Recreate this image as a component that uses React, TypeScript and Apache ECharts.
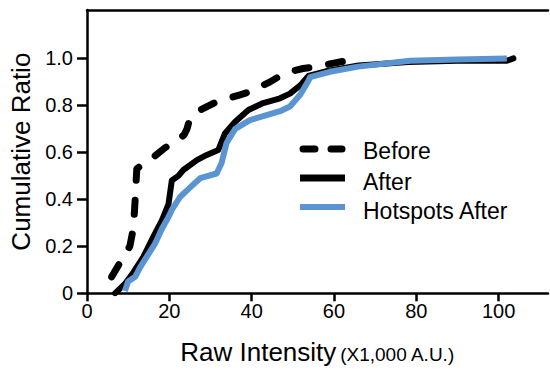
import React, { useEffect, useRef } from "react";
import * as echarts from "echarts";

const beforeX = [6.0, 8.0, 10.4, 11.3, 11.7, 12.1, 13.3, 15.5, 19.0, 22.6, 23.6, 24.3, 25.0, 27.5, 31.5, 37.2, 40.0, 42.8, 44.5, 47.3, 49.3, 52.5, 55.8, 60.0, 63.0, 64.6];
const beforeY = [0.07, 0.13, 0.2, 0.28, 0.4, 0.53, 0.546, 0.57, 0.62, 0.66, 0.675, 0.7, 0.745, 0.78, 0.815, 0.845, 0.86, 0.886, 0.9, 0.93, 0.943, 0.957, 0.965, 0.98, 0.99, 1.0];

const afterX = [6.8, 9.2, 11.3, 13.7, 16.1, 18.2, 19.8, 20.6, 22.2, 23.4, 26.7, 29.1, 31.9, 33.5, 36.0, 39.2, 42.8, 46.9, 49.3, 51.8, 53.8, 58.0, 66.0, 78.0, 90.0, 102.0, 103.6];
const afterY = [0.0, 0.04, 0.09, 0.155, 0.24, 0.31, 0.38, 0.48, 0.5, 0.525, 0.567, 0.589, 0.61, 0.68, 0.73, 0.78, 0.81, 0.83, 0.85, 0.885, 0.925, 0.945, 0.97, 0.985, 0.99, 0.99, 1.0];

const hotX = [9.2, 10.0, 11.7, 12.9, 14.5, 16.5, 18.2, 19.8, 20.6, 22.6, 25.0, 27.5, 31.5, 32.7, 33.9, 36.0, 39.6, 46.9, 49.3, 51.8, 53.8, 54.2, 59.0, 65.9, 78.5, 90.0, 102.0];
const hotY = [0.01, 0.05, 0.07, 0.11, 0.155, 0.21, 0.275, 0.325, 0.355, 0.41, 0.45, 0.49, 0.51, 0.555, 0.64, 0.7, 0.737, 0.775, 0.795, 0.845, 0.905, 0.92, 0.943, 0.965, 0.99, 0.995, 1.0];

const xTicks = [0, 20, 40, 60, 80, 100];
const yTicks = [0, 0.2, 0.4, 0.6, 0.8, 1.0];
const seriesNames = ["Before", "After", "Hotspots After"];

const pairs = (xs: number[], ys: number[]) => xs.map((x, i) => [x, ys[i]]);

const FONT = "'Liberation Sans', Arial, sans-serif";
const BLUE = "#5B95D1";

export default function App() {
  const ref = useRef<HTMLDivElement>(null);
  useEffect(() => {
    if (!ref.current) return;
    const chart = echarts.init(ref.current, undefined, { renderer: "svg" });
    const legendStyles = [
      { stroke: "#000", lineWidth: 7, lineDash: [12, 16], lineCap: "round" },
      { stroke: "#000", lineWidth: 7, lineCap: "butt" },
      { stroke: BLUE, lineWidth: 6, lineCap: "butt" },
    ];
    const legendLineY = [149, 178, 207];
    const legendTextY = [151, 182, 211];
    const graphic: any[] = [];
    seriesNames.forEach((name, i) => {
      graphic.push({
        type: "line",
        shape: { x1: i === 0 ? 303 : 300, y1: legendLineY[i], x2: i === 0 ? 342 : 345, y2: legendLineY[i] },
        style: legendStyles[i],
        silent: true,
      });
      graphic.push({
        type: "text",
        x: 363,
        y: legendTextY[i],
        style: { text: name, fontSize: 23, fontFamily: FONT, fill: "#000", verticalAlign: "middle" },
        silent: true,
      });
    });
    chart.setOption({
      animation: false,
      backgroundColor: "#fff",
      textStyle: { fontFamily: FONT, color: "#000" },
      grid: { left: 87, right: 2, top: 10, bottom: 80.7, outerBoundsMode: "none", containLabel: false },
      graphic,
      xAxis: [
        {
          type: "value",
          min: 0,
          max: 112,
          interval: 20,
          position: "bottom",
          axisLine: { lineStyle: { color: "#000", width: 2.5 } },
          axisTick: { show: true, length: 8, customValues: xTicks, lineStyle: { color: "#000", width: 2.5 } },
          axisLabel: { fontSize: 20, color: "#000", margin: 8, fontFamily: FONT, customValues: xTicks },
          splitLine: { show: false },
          name: "{a|Raw Intensity} {b|(X1,000 A.U.)}",
          nameLocation: "middle",
          nameGap: 46,
          nameTextStyle: {
            rich: {
              a: { fontSize: 26, color: "#000", fontFamily: FONT },
              b: { fontSize: 19, color: "#000", fontFamily: FONT, padding: [4, 0, 0, 0] },
            },
          },
        },
        {
          type: "value",
          min: 0,
          max: 112,
          position: "top",
          axisLine: { show: true, onZero: false, lineStyle: { color: "#000", width: 2.5 } },
          axisTick: { show: false },
          axisLabel: { show: false },
          splitLine: { show: false },
        },
      ],
      yAxis: {
        type: "value",
        min: 0,
        max: 1.206,
        axisLine: { show: true, lineStyle: { color: "#000", width: 2.5 } },
        axisTick: { show: true, length: 10, customValues: yTicks, lineStyle: { color: "#000", width: 2.5 } },
        axisLabel: {
          fontSize: 20,
          color: "#000",
          margin: 14,
          fontFamily: FONT,
          customValues: yTicks,
          formatter: (v: number) => (v === 0 ? "0" : v.toFixed(1)),
        },
        splitLine: { show: false },
        name: "Cumulative Ratio",
        nameLocation: "middle",
        nameGap: 52,
        nameTextStyle: { fontSize: 26, color: "#000", fontFamily: FONT },
      },
      series: [
        {
          name: "After",
          type: "line",
          data: pairs(afterX, afterY),
          showSymbol: false,
          symbol: "none",
          lineStyle: { color: "#000", width: 6, cap: "round", join: "round" },
          itemStyle: { color: "#000" },
          z: 2,
        },
        {
          name: "Hotspots After",
          type: "line",
          data: pairs(hotX, hotY),
          showSymbol: false,
          symbol: "none",
          lineStyle: { color: BLUE, width: 6, cap: "butt", join: "round" },
          itemStyle: { color: BLUE },
          z: 3,
        },
        {
          name: "Before",
          type: "line",
          data: pairs(beforeX, beforeY),
          showSymbol: false,
          symbol: "none",
          lineStyle: { color: "#000", width: 7, type: [14, 20], cap: "round", join: "round" },
          itemStyle: { color: "#000" },
          z: 4,
        },
      ],
    });
    return () => chart.dispose();
  }, []);
  return <div ref={ref} style={{ width: 550, height: 374, position: "absolute", left: 0, top: 0 }} />;
}
